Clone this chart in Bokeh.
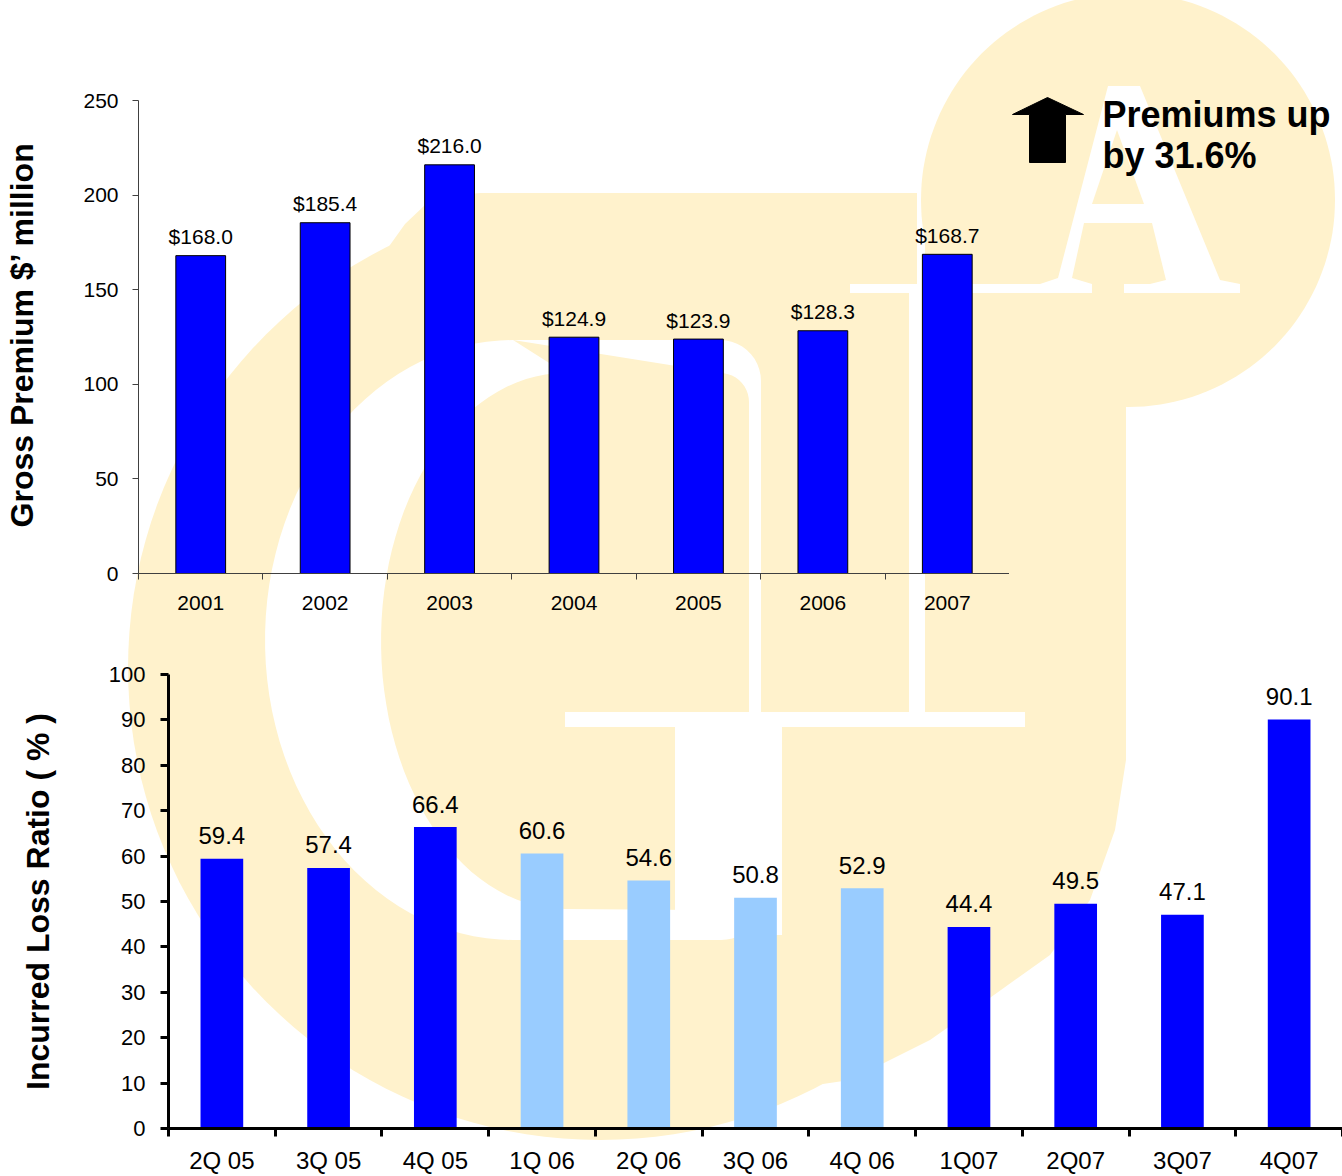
import base64
import numpy as np
from bokeh.plotting import figure
from bokeh.models import Range1d, FixedTicker, ColumnDataSource
from bokeh.layouts import column, row
from bokeh.embed import file_html
from bokeh.resources import INLINE
from bokeh.core.properties import value

# ---------------- data ----------------
years = ["2001", "2002", "2003", "2004", "2005", "2006", "2007"]
gross_premium = [168.0, 185.4, 216.0, 124.9, 123.9, 128.3, 168.7]
premium_ticks = [0, 50, 100, 150, 200, 250]

quarters = ["2Q 05", "3Q 05", "4Q 05", "1Q 06", "2Q 06", "3Q 06", "4Q 06",
            "1Q07", "2Q07", "3Q07", "4Q07"]
loss_ratio = [59.4, 57.4, 66.4, 60.6, 54.6, 50.8, 52.9, 44.4, 49.5, 47.1, 90.1]
loss_ticks = [0, 10, 20, 30, 40, 50, 60, 70, 80, 90, 100]

headline = ["Premiums up", "by 31.6%"]

# ---------------- styles ----------------
FONT = "Liberation Sans"
BLUE = "#0000FF"
LIGHT = "#99CCFF"
CREAM = "#FFF2CC"
bar_colors = [LIGHT if q.endswith("06") else BLUE for q in quarters]
PAGE_W, PAGE_H = 1342, 1176


# ---------------- faint logo watermark behind the charts (page pixels) ----------------
def _circle(cx, cy, r, n=160):
    t = np.linspace(0, 2 * np.pi, n, endpoint=False)
    return list(cx + r * np.cos(t)), list(cy + r * np.sin(t))


def _rect(x0, y0, x1, y1):
    return [x0, x1, x1, x0], [y0, y0, y1, y1]


def _arc(cx, cy, rx, ry, a0, a1, n=40):
    t = np.radians(np.linspace(a0, a1, n))
    return list(cx + rx * np.cos(t)), list(cy + ry * np.sin(t))


def _crescent():
    xs, ys = [513, 720], [340, 340]
    ax, ay = _arc(720, 381, 41, 41, 270, 360, 12); xs += ax; ys += ay
    ax, ay = _arc(721, 900, 40, 40, 0, 90, 12); xs += ax; ys += ay
    ax, ay = _arc(513, 640, 248, 300, 90, 270, 60); xs += ax; ys += ay
    ix, iy = [565], [373]
    ax, ay = _arc(565, 641, 184, 268, 270, 90, 60); ix += ax; iy += ay
    ax, ay = _arc(700, 880, 49, 30, 90, 0, 12); ix += ax; iy += ay
    ax, ay = _arc(720, 402, 29, 29, 0, -90, 12); ix += ax; iy += ay
    return xs + ix, ys + iy


yellow_shapes = [
    _circle(600, 668, 472),
    ([385, 405, 425, 450, 480, 917, 917, 385], [252, 224, 205, 196, 193, 193, 340, 340]),
    _circle(1128, 200, 207),
    _rect(925, 200, 1126, 735),
    ([782, 790, 805, 1126, 1126, 1115, 1090, 1050, 987, 930, 850, 782],
     [745, 733, 727, 727, 760, 830, 900, 955, 1000, 1040, 1080, 1090]),
]
white_shapes = [
    _crescent(),
    _rect(565, 712, 1025, 727),
    _rect(675, 712, 782, 935),
    _rect(909, 293, 925, 712),
    _rect(850, 284, 1091, 293),
    _rect(1124, 284, 1240, 293),
    ([1108, 1140, 1220, 1240, 1240, 1150, 1150, 1166, 1152, 1084, 1072, 1092, 1092, 1040, 1040, 1058],
     [86, 86, 280, 284, 293, 293, 284, 280, 223, 223, 278, 284, 293, 293, 284, 278]),
]
counter_shapes = [([1117, 1144, 1092], [130, 204, 204])]


def _path(xs, ys, fill):
    pts = " L ".join(f"{x:.1f},{y:.1f}" for x, y in zip(xs, ys))
    return f'<path d="M {pts} Z" fill="{fill}"/>'


svg_parts = [f'<svg xmlns="http://www.w3.org/2000/svg" width="{PAGE_W}" height="{PAGE_H}" '
             f'viewBox="0 0 {PAGE_W} {PAGE_H}">']
for shapes, col in ((yellow_shapes, CREAM), (white_shapes, "#FFFFFF"), (counter_shapes, CREAM)):
    for xs, ys in shapes:
        svg_parts.append(_path(xs, ys, col))
svg_parts.append("</svg>")
watermark_uri = "data:image/svg+xml;base64," + base64.b64encode("".join(svg_parts).encode()).decode()


def clean(p):
    p.xgrid.visible = False
    p.ygrid.visible = False
    p.outline_line_color = None
    p.background_fill_color = None
    p.border_fill_color = None


# ---------------- top chart ----------------
n1 = len(years)
top_pad = 5 * 250 / 473  # a few pixels of headroom above the 250 tick
p1 = figure(width=1009, height=640, x_range=Range1d(0, n1), y_range=Range1d(0, 250 + top_pad),
            output_backend="svg", toolbar_location=None,
            min_border_left=138, min_border_right=0, min_border_top=95, min_border_bottom=67)
clean(p1)
x1 = [i + 0.5 for i in range(n1)]
src1 = ColumnDataSource(dict(x=x1, top=gross_premium,
                             label=[f"${v:.1f}" for v in gross_premium]))
p1.vbar(x="x", top="top", width=0.4, source=src1, fill_color=BLUE,
        line_color="black", line_width=1)
p1.text(x="x", y="top", text="label", source=src1, text_align="center",
        text_baseline="alphabetic", y_offset=-19, text_font=value(FONT),
        text_font_size="21px", text_color="black")

xa = p1.xaxis[0]
xa.ticker = FixedTicker(ticks=x1, minor_ticks=list(range(n1 + 1)))
xa.major_label_overrides = {x: y for x, y in zip(x1, years)}
xa.major_tick_line_color = None
xa.major_tick_out = 0
xa.major_tick_in = 0
xa.minor_tick_out = 6
xa.minor_tick_in = 0
xa.minor_tick_line_color = "#404040"
xa.axis_line_color = "#404040"
xa.major_label_standoff = 16
xa.major_label_text_font = FONT
xa.major_label_text_font_size = "21px"
xa.major_label_text_color = "black"

ya = p1.yaxis[0]
ya.ticker = FixedTicker(ticks=premium_ticks)
ya.bounds = (0, 250)
ya.major_tick_out = 6
ya.major_tick_in = 0
ya.minor_tick_line_color = None
ya.axis_line_color = "#404040"
ya.major_tick_line_color = "#404040"
ya.major_label_standoff = 14
ya.major_label_text_font = FONT
ya.major_label_text_font_size = "21px"
ya.major_label_text_color = "black"
ya.axis_label = "Gross Premium $\u2019 million"
ya.axis_label_text_font = FONT
ya.axis_label_text_font_style = "bold"
ya.axis_label_text_font_size = "32px"
ya.axis_label_text_color = "black"
ya.axis_label_standoff = 40

# ---------------- headline panel ----------------
ann = figure(width=333, height=640, x_range=Range1d(0, 333), y_range=Range1d(573, 95),
             output_backend="svg", toolbar_location=None,
             min_border_left=0, min_border_right=0, min_border_top=95, min_border_bottom=67)
clean(ann)
ann.axis.visible = False
ann.patch(x=[38, 3, 20, 20, 56, 56, 74], y=[97, 114, 114, 162, 162, 114, 114],
          fill_color="black", line_color="black")
ann.text(x=[93, 93], y=[114, 155], text=headline, text_font=value(FONT),
         text_font_style="bold", text_font_size="36px", text_color="black",
         text_baseline="alphabetic", text_align="left")

# ---------------- bottom chart ----------------
n2 = len(quarters)
p2 = figure(width=1342, height=536, x_range=Range1d(0, n2), y_range=Range1d(0, 100),
            output_backend="svg", toolbar_location=None,
            min_border_left=168, min_border_right=0, min_border_top=34, min_border_bottom=47)
clean(p2)
x2 = [i + 0.5 for i in range(n2)]
src2 = ColumnDataSource(dict(x=x2, top=loss_ratio, color=bar_colors,
                             label=[f"{v:.1f}" for v in loss_ratio]))
p2.vbar(x="x", top="top", width=0.4, source=src2, fill_color="color", line_color=None)
p2.text(x="x", y="top", text="label", source=src2, text_align="center",
        text_baseline="alphabetic", y_offset=-23, text_font=value(FONT),
        text_font_size="24px", text_color="black")

xb = p2.xaxis[0]
xb.ticker = FixedTicker(ticks=x2, minor_ticks=list(range(n2 + 1)))
xb.major_label_overrides = {x: q for x, q in zip(x2, quarters)}
xb.major_tick_line_color = None
xb.major_tick_out = 0
xb.major_tick_in = 0
xb.minor_tick_out = 8
xb.minor_tick_in = 0
xb.minor_tick_line_width = 3
xb.minor_tick_line_color = "black"
xb.axis_line_color = "black"
xb.axis_line_width = 3
xb.major_label_standoff = 10
xb.major_label_text_font = FONT
xb.major_label_text_font_size = "24px"
xb.major_label_text_color = "black"

yb = p2.yaxis[0]
yb.ticker = FixedTicker(ticks=loss_ticks)
yb.major_tick_out = 8
yb.major_tick_in = 0
yb.major_tick_line_width = 3
yb.minor_tick_line_color = None
yb.axis_line_color = "black"
yb.axis_line_width = 3
yb.major_tick_line_color = "black"
yb.major_label_standoff = 15
yb.major_label_text_font = FONT
yb.major_label_text_font_size = "22px"
yb.major_label_text_color = "black"
yb.axis_label = "Incurred Loss Ratio ( % )"
yb.axis_label_text_font = FONT
yb.axis_label_text_font_style = "bold"
yb.axis_label_text_font_size = "32px"
yb.axis_label_text_color = "black"
yb.axis_label_standoff = 50

layout = column(row(p1, ann, spacing=0), p2, spacing=0,
                styles={"background-color": "white",
                        "background-image": f"url({watermark_uri})",
                        "background-repeat": "no-repeat",
                        "background-size": f"{PAGE_W}px {PAGE_H}px",
                        "background-position": "0px 0px"})
open("out.html", "w").write(file_html(layout, INLINE))
